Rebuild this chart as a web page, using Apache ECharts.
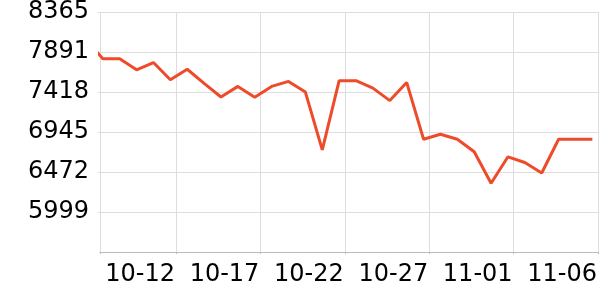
<!DOCTYPE html>
<html><head><meta charset="utf-8">
<script src="https://cdn.jsdelivr.net/npm/echarts@6/dist/echarts.min.js"></script>
<style>html,body{margin:0;padding:0;background:#fff}#c{width:600px;height:300px}</style>
</head><body><div id="c"></div>
<script>
// Dates (Beijing-time days) and values
const dates = ['2023-10-07','2023-10-08','2023-10-09','2023-10-10','2023-10-11','2023-10-12','2023-10-13','2023-10-14','2023-10-15','2023-10-16','2023-10-17','2023-10-18','2023-10-19','2023-10-20','2023-10-21','2023-10-22','2023-10-23','2023-10-24','2023-10-25','2023-10-26','2023-10-27','2023-10-28','2023-10-29','2023-10-30','2023-10-31','2023-11-01','2023-11-02','2023-11-03','2023-11-04','2023-11-05','2023-11-06'];
const values = [8040,7812,7812,7681,7767,7564,7688,7520,7360,7485,7356,7485,7544,7418,6734,7552,7552,7465,7317,7532,6860,6919,6860,6711,6339,6652,6585,6461,6860,6860,6860];
const xTickDates = ['2023-10-12','2023-10-17','2023-10-22','2023-10-27','2023-11-01','2023-11-06'];
const xMin = '2023-10-07T12:00:00Z';
const xMax = '2023-11-06T01:00:00Z';
const yMin = 5526, yMax = 8365, ySplits = 6;

const toBJ = d => Date.parse(d + 'T00:00:00+08:00');
const toUTC = d => Date.parse(d + 'T00:00:00Z');
const seriesData = dates.map((d, i) => [toBJ(d), values[i]]);
const tickVals = xTickDates.map(toUTC);
const pad = n => (n < 10 ? '0' : '') + n;
const fmt = v => { const d = new Date(v); return pad(d.getUTCMonth() + 1) + '-' + pad(d.getUTCDate()); };

const chart = echarts.init(document.getElementById('c'), null, {renderer: 'canvas'});
chart.setOption({
  animation: false,
  grid: {left: 100, right: -2, top: 10, bottom: 48, containLabel: false},
  xAxis: {
    type: 'value', scale: true,
    min: Date.parse(xMin), max: Date.parse(xMax),
    axisLine: {show: true, lineStyle: {color: '#bbbbbb', width: 1}},
    axisTick: {show: true, length: 2, lineStyle: {color: '#bbbbbb'}, customValues: [Date.parse(xMin)].concat(tickVals)},
    splitLine: {show: true, lineStyle: {color: '#dddddd', width: 1}},
    axisLabel: {customValues: tickVals, formatter: v => fmt(v), color: '#000', fontSize: 24,
      fontFamily: 'DejaVu Sans', align: 'right', margin: 11, padding: [0, 1, 0, 0], hideOverlap: false}
  },
  yAxis: {
    type: 'value', min: yMin, max: yMax, interval: (yMax - yMin) / ySplits,
    axisLine: {show: false},
    axisTick: {show: true, length: 2, lineStyle: {color: '#dddddd'}},
    splitLine: {show: true, lineStyle: {color: '#dddddd', width: 1}},
    axisLabel: {showMinLabel: false, formatter: v => String(Math.floor(v + 1e-6)), color: '#000',
      fontSize: 24, fontFamily: 'DejaVu Sans', margin: 11}
  },
  series: [{
    type: 'line', data: seriesData, showSymbol: false, symbol: 'none', clip: true,
    lineStyle: {color: '#ee4b2b', width: 3}
  }]
});
</script></body></html>
